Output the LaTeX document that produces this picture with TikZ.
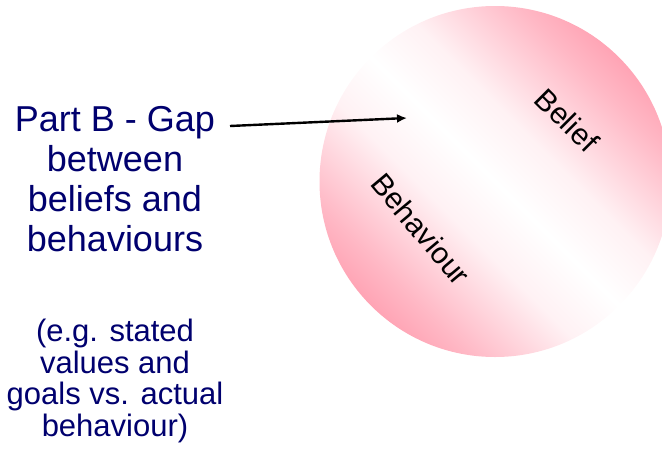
\documentclass[tikz,border=0pt]{standalone}
\usepackage{fontspec}
\setmainfont{Liberation Sans}
\usetikzlibrary{arrows.meta}
\definecolor{beliefpink}{RGB}{255,120,145}
\definecolor{partnavy}{RGB}{0,0,110}
\pgfdeclareverticalshading{beliefband}{100bp}{color(0bp)=(beliefpink); color(14bp)=(beliefpink); color(30bp)=(beliefpink!52); color(42bp)=(beliefpink!10); color(50bp)=(white); color(58bp)=(beliefpink!10); color(70bp)=(beliefpink!52); color(86bp)=(beliefpink); color(100bp)=(beliefpink)}

\begin{document}
\begin{tikzpicture}[x=1pt, y=-1pt,
  gaptext/.style={text=partnavy, align=center, inner sep=0pt},
  circlelabel/.style={inner sep=0pt, font=\fontsize{30}{30}\selectfont}]
  \useasboundingbox (0,0) rectangle (662,448);
  \clip (0,0) rectangle (662,448);
  % the shaded circle
  \node[circle, minimum size=351pt, inner sep=0pt, shade, shading=beliefband, shading angle=-45] (belief) at (495,181.5) {};
  \node[circlelabel, rotate=-45] (belieflabel) at (567,120) {Belief};
  \node[circlelabel, rotate=-50] (behaviourlabel) at (421,229) {Behaviour};
  % the texts on the left
  \node[gaptext, font=\fontsize{36}{40}\selectfont, anchor=north] (partb) at (115,106) {Part B - Gap\\between\\beliefs and\\behaviours};
  \node[gaptext, font=\fontsize{31}{31.5}\selectfont, anchor=north] (example) at (115,319) {(e.g. stated\\values and\\goals vs. actual\\behaviour)};
  % the arrow into the gap
  \coordinate (gapstart) at (230,126);
  \coordinate (gaptip) at (407,118);
  \draw[line width=2.4pt, -{Latex[length=10pt, width=9pt]}] (gapstart) -- (gaptip);
\end{tikzpicture}
\end{document}
